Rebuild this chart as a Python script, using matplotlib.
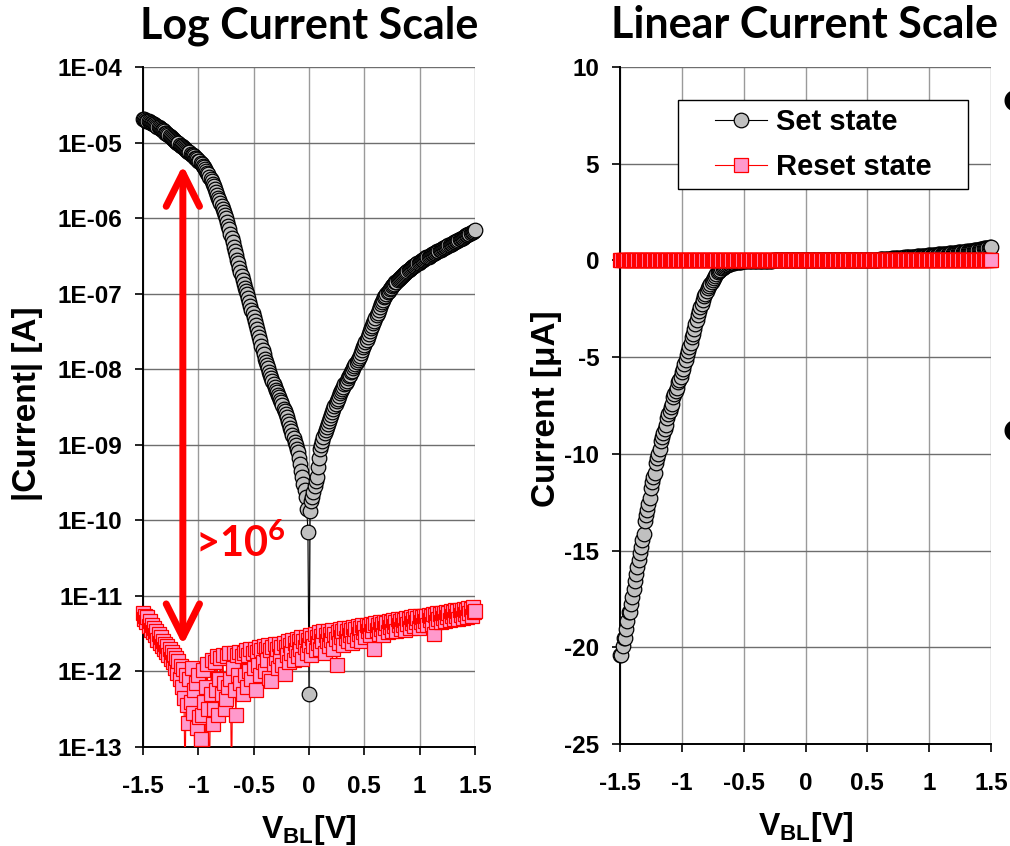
import numpy as np
import matplotlib
matplotlib.use('Agg')
import matplotlib.pyplot as plt
from matplotlib.patches import Rectangle

plt.rcParams['font.family'] = ['Liberation Sans', 'DejaVu Sans']
plt.rcParams['font.weight'] = 'bold'
plt.rcParams['axes.labelweight'] = 'bold'
plt.rcParams['axes.unicode_minus'] = False

# bit-line voltage sweep, -1.5 V .. 1.5 V in 10 mV steps
v_bl = np.linspace(-1.5, 1.5, 301)

# log10(|I| / A) of the set state
set_log = [
    -4.69, -4.69, -4.70, -4.71, -4.71, -4.72, -4.73, -4.74, -4.74, -4.75,
    -4.76, -4.77, -4.78, -4.79, -4.80, -4.81, -4.82, -4.83, -4.84, -4.85,
    -4.87, -4.88, -4.89, -4.90, -4.91, -4.93, -4.94, -4.95, -4.96, -4.98,
    -4.99, -5.00, -5.01, -5.03, -5.04, -5.05, -5.06, -5.07, -5.09, -5.10,
    -5.11, -5.12, -5.13, -5.15, -5.16, -5.17, -5.18, -5.20, -5.21, -5.22,
    -5.24, -5.25, -5.27, -5.29, -5.31, -5.33, -5.35, -5.37, -5.40, -5.42,
    -5.45, -5.48, -5.51, -5.55, -5.58, -5.62, -5.65, -5.69, -5.73, -5.76,
    -5.80, -5.84, -5.88, -5.92, -5.96, -6.00, -6.05, -6.10, -6.15, -6.21,
    -6.26, -6.32, -6.38, -6.43, -6.49, -6.55, -6.60, -6.66, -6.71, -6.77,
    -6.82, -6.87, -6.92, -6.97, -7.01, -7.06, -7.11, -7.16, -7.21, -7.26,
    -7.31, -7.36, -7.41, -7.47, -7.52, -7.57, -7.63, -7.69, -7.75, -7.80,
    -7.86, -7.90, -7.95, -7.99, -8.04, -8.08, -8.12, -8.16, -8.20, -8.23,
    -8.27, -8.30, -8.34, -8.37, -8.41, -8.44, -8.48, -8.52, -8.55, -8.59,
    -8.63, -8.68, -8.73, -8.78, -8.82, -8.87, -8.91, -8.96, -9.00, -9.05,
    -9.09, -9.17, -9.26, -9.35, -9.43, -9.52, -9.60, -9.69, -9.85, -10.15,
    -12.30,
    -9.87, -9.75, -9.69, -9.62, -9.55, -9.48, -9.42, -9.30, -9.18, -9.06,
    -9.00, -8.95, -8.90, -8.85, -8.80, -8.76, -8.72, -8.68, -8.64, -8.60,
    -8.56, -8.53, -8.49, -8.46, -8.42, -8.39, -8.36, -8.32, -8.29, -8.26,
    -8.23, -8.20, -8.18, -8.15, -8.12, -8.09, -8.07, -8.04, -8.02, -7.99,
    -7.96, -7.93, -7.91, -7.88, -7.85, -7.82, -7.78, -7.75, -7.71, -7.68,
    -7.64, -7.61, -7.57, -7.54, -7.50, -7.46, -7.43, -7.39, -7.36, -7.32,
    -7.28, -7.25, -7.21, -7.18, -7.14, -7.11, -7.08, -7.05, -7.03, -7.00,
    -6.98, -6.96, -6.94, -6.92, -6.90, -6.88, -6.87, -6.85, -6.84, -6.82,
    -6.81, -6.79, -6.78, -6.76, -6.75, -6.74, -6.72, -6.71, -6.70, -6.69,
    -6.68, -6.66, -6.65, -6.64, -6.63, -6.62, -6.61, -6.60, -6.59, -6.58,
    -6.57, -6.56, -6.55, -6.54, -6.53, -6.52, -6.51, -6.51, -6.50, -6.49,
    -6.48, -6.47, -6.46, -6.46, -6.45, -6.44, -6.43, -6.42, -6.42, -6.41,
    -6.40, -6.39, -6.38, -6.38, -6.37, -6.36, -6.35, -6.34, -6.34, -6.33,
    -6.32, -6.31, -6.30, -6.30, -6.29, -6.28, -6.27, -6.26, -6.26, -6.25,
    -6.24, -6.23, -6.22, -6.21, -6.21, -6.20, -6.19, -6.18, -6.17, -6.16,
]

# log10(|I| / A) of the reset state (noisy, pA range)
reset_log = [
    -11.22, -11.30, -11.26, -11.35, -11.28, -11.40, -11.33, -11.45, -11.38, -11.48,
    -11.42, -11.52, -11.47, -11.58, -11.50, -11.62, -11.55, -11.66, -11.60, -11.70,
    -11.63, -11.74, -11.66, -11.78, -11.70, -11.83, -11.74, -11.88, -11.78, -11.95,
    -11.82, -12.02, -11.86, -12.10, -11.93, -12.20, -11.97, -12.35, -13.60, -12.05,
    -12.45, -12.68, -12.10, -12.40, -11.95, -12.55, -12.25, -13.70, -12.15, -12.75,
    -12.05, -12.60, -12.90, -12.57, -11.98, -12.40, -13.60, -12.20, -11.90, -12.50,
    -13.50, -12.30, -11.85, -12.70, -12.50, -11.88, -12.25, -11.80, -12.57, -12.10,
    -11.82, -12.30, -11.78, -12.15, -12.50, -12.37, -11.80, -12.20, -11.76, -12.10,
    -13.60, -11.95, -11.75, -12.25, -12.57, -11.78, -12.05, -11.74, -12.15, -11.80,
    -12.30, -11.76, -12.05, -11.72, -12.20, -11.78, -12.00, -11.70, -12.10, -11.75,
    -11.95, -11.70, -12.25, -11.74, -11.92, -11.68, -12.05, -11.72, -11.88, -11.66,
    -12.00, -11.70, -11.85, -11.65, -12.08, -11.72, -12.13, -11.68, -11.90, -11.64,
    -11.82, -11.70, -11.95, -11.63, -11.80, -11.67, -11.92, -11.62, -12.03, -11.68,
    -11.78, -11.60, -11.88, -11.65, -11.75, -11.58, -11.85, -11.62, -11.72, -11.57,
    -11.80, -11.60, -11.70, -11.55, -11.83, -11.60, -11.68, -11.54, -11.75, -11.58,
    -11.65, -11.52, -11.78, -11.56, -11.66, -11.50, -11.72, -11.55, -11.62, -11.48,
    -11.70, -11.53, -11.60, -11.47, -11.75, -11.52, -11.60, -11.46, -11.66, -11.50,
    -11.58, -11.45, -11.70, -11.50, -11.57, -11.91, -11.48, -11.62, -11.44, -11.55,
    -11.47, -11.65, -11.43, -11.56, -11.46, -11.60, -11.42, -11.52, -11.45, -11.62,
    -11.41, -11.53, -11.44, -11.58, -11.40, -11.50, -11.43, -11.60, -11.39, -11.48,
    -11.42, -11.55, -11.38, -11.47, -11.40, -11.52, -11.37, -11.46, -11.39, -11.70,
    -11.36, -11.45, -11.38, -11.50, -11.35, -11.44, -11.37, -11.52, -11.34, -11.42,
    -11.36, -11.48, -11.33, -11.41, -11.35, -11.46, -11.32, -11.40, -11.34, -11.47,
    -11.31, -11.39, -11.33, -11.44, -11.30, -11.38, -11.32, -11.45, -11.29, -11.37,
    -11.31, -11.42, -11.28, -11.36, -11.30, -11.40, -11.27, -11.35, -11.29, -11.43,
    -11.27, -11.34, -11.28, -11.39, -11.26, -11.33, -11.27, -11.38, -11.25, -11.32,
    -11.26, -11.37, -11.24, -11.50, -11.25, -11.35, -11.23, -11.30, -11.24, -11.34,
    -11.22, -11.29, -11.23, -11.33, -11.21, -11.28, -11.22, -11.32, -11.20, -11.27,
    -11.21, -11.31, -11.19, -11.26, -11.20, -11.30, -11.18, -11.25, -11.19, -11.29,
    -11.17, -11.24, -11.18, -11.28, -11.16, -11.23, -11.17, -11.26, -11.15, -11.21,
    -11.20,
]

x_ticks = [-1.5, -1, -0.5, 0, 0.5, 1, 1.5]
x_ticklabels = ['-1.5', '-1', '-0.5', '0', '0.5', '1', '1.5']
log_ticks = [-13, -12, -11, -10, -9, -8, -7, -6, -5, -4]
log_ticklabels = ['1E-13', '1E-12', '1E-11', '1E-10', '1E-09',
                  '1E-08', '1E-07', '1E-06', '1E-05', '1E-04']
lin_ticks = [-25, -20, -15, -10, -5, 0, 5, 10]

set_abs = 10.0 ** np.array(set_log)
reset_abs = 10.0 ** np.array(reset_log)
set_ua = np.sign(v_bl) * set_abs * 1e6
reset_ua = np.sign(v_bl) * reset_abs * 1e6

set_style = dict(marker='o', ms=10.5, mfc='#c0c0c0', mec='black', mew=0.9,
                 color='black', lw=0.8)
reset_style = dict(marker='s', ms=10.5, mfc='#ff99cc', mec='#ff0000', mew=0.9,
                   color='#ff0000', lw=0.8)

fig = plt.figure(figsize=(10.1, 8.46), dpi=100)
ax1 = fig.add_axes([0.1416, 0.1170, 0.3287, 0.8038])
ax2 = fig.add_axes([0.6139, 0.1206, 0.3673, 0.8002])


def style_axes(ax):
    ax.set_axisbelow(True)
    ax.xaxis.grid(True, color='#9a9a9a', lw=1.0)
    ax.yaxis.grid(True, color='#6e6e6e', lw=1.0)
    ax.spines['top'].set_visible(False)
    ax.spines['right'].set_visible(False)
    ax.spines['left'].set_linewidth(1.4)
    ax.spines['bottom'].set_linewidth(1.4)
    ax.tick_params(axis='both', direction='out', length=6, width=1.2,
                   labelsize=17.5)
    ax.tick_params(axis='y', pad=9)
    ax.tick_params(axis='x', pad=14)
    ax.set_xlim(-1.5, 1.5)
    ax.set_xticks(x_ticks)
    ax.set_xticklabels(x_ticklabels)
    ax.set_xlabel(r'V$_{\mathdefault{BL}}$[V]', fontsize=23, fontweight='bold')
    ax.xaxis.set_label_coords(0.5, -0.097)


# ---- log panel ----
ax1.set_yscale('log')
ax1.plot(v_bl, set_abs, clip_on=False, zorder=3, **set_style)
ax1.plot(v_bl, reset_abs, color='#ff0000', lw=0.8, zorder=4)
inside = np.array(reset_log) >= -13
ax1.plot(v_bl[inside], reset_abs[inside], ls='none', clip_on=False, zorder=4,
         **{k: v for k, v in reset_style.items() if k not in ('color', 'lw')})
ax1.set_ylim(1e-13, 1e-4)
ax1.set_yticks([10.0 ** t for t in log_ticks])
ax1.set_yticklabels(log_ticklabels)
ax1.minorticks_off()
style_axes(ax1)
ax1.set_ylabel('|Current| [A]', fontsize=24, fontweight='bold')
ax1.yaxis.set_label_coords(-0.301, 0.505)

# on/off ratio arrow
ax1.annotate('', xy=(-1.14, 10 ** -5.30), xytext=(-1.14, 10 ** -11.65),
             arrowprops=dict(arrowstyle='<->,head_length=1.2,head_width=0.6',
                             mutation_scale=20, color='#ff0000', lw=5,
                             shrinkA=0, shrinkB=0, capstyle='round',
                             joinstyle='round'), zorder=5)
ax1.text(-1.03, 10 ** -10.48, r'>$\mathdefault{10^{6}}$', color='#ff0000',
         fontsize=30, family='Lato', weight='bold', ha='left', va='baseline',
         zorder=6)

# ---- linear panel ----
ax2.plot(v_bl, set_ua, clip_on=False, zorder=3, label='Set state', **set_style)
ax2.plot(v_bl, reset_ua, clip_on=False, zorder=4, label='Reset state',
         **reset_style)
ax2.set_ylim(-25, 10)
ax2.set_yticks(lin_ticks)
style_axes(ax2)
ax2.set_ylabel('Current [μA]', fontsize=24, fontweight='bold')
ax2.yaxis.set_label_coords(-0.156, 0.495)

# legend: fixed white box with the entries centred in it
box = (0.156, 0.82, 0.782, 0.131)
ax2.add_patch(Rectangle(box[:2], box[2], box[3], transform=ax2.transAxes,
                        facecolor='white', edgecolor='black', lw=1.0,
                        zorder=6, clip_on=False))
leg = ax2.legend(loc='center', bbox_to_anchor=box, borderaxespad=0,
                 fontsize=21, frameon=False, handlelength=1.8,
                 handletextpad=0.3, borderpad=0.2, labelspacing=0.6)
leg.set_zorder(7)

# titles
fig.text(0.306, 0.970, 'Log Current Scale', family='Lato', weight='bold',
         fontsize=31, ha='center', va='center')
fig.text(0.797, 0.970, 'Linear Current Scale', family='Lato', weight='bold',
         fontsize=31, ha='center', va='center')

# slide bullets cut off at the right edge
fig.text(0.993, 1 - 100 / 846, '●', family='DejaVu Sans', fontsize=20,
         ha='left', va='center')
fig.text(0.993, 1 - 430 / 846, '●', family='DejaVu Sans', fontsize=20,
         ha='left', va='center')

fig.savefig('out.png', dpi=100)
